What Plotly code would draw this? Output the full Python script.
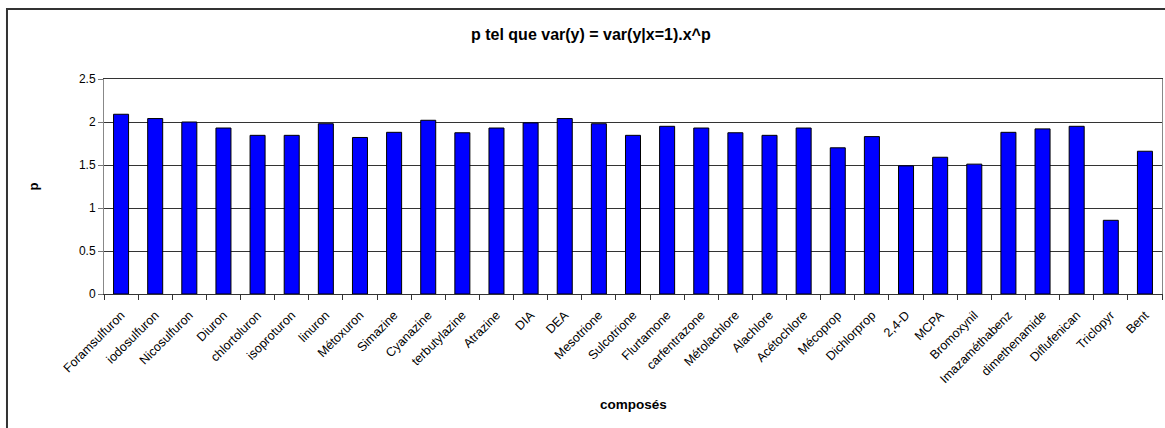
import plotly.graph_objects as go

# compounds and fitted exponent p
COMPOUNDS = [
    "Foramsulfuron", "iodosulfuron", "Nicosulfuron", "Diuron", "chlortoluron",
    "isoproturon", "linuron", "Métoxuron", "Simazine", "Cyanazine",
    "terbutylazine", "Atrazine", "DIA", "DEA", "Mesotrione", "Sulcotrione",
    "Flurtamone", "carfentrazone", "Métolachlore", "Alachlore", "Acétochlore",
    "Mécoprop", "Dichlorprop", "2,4-D", "MCPA", "Bromoxynil",
    "Imazaméthabenz", "dimethenamide", "Diflufenican", "Triclopyr", "Bent",
]
P_VALUES = [
    2.09, 2.04, 2.00, 1.93, 1.845,
    1.845, 1.98, 1.82, 1.88, 2.02,
    1.875, 1.93, 1.99, 2.04, 1.98, 1.845,
    1.95, 1.93, 1.875, 1.845, 1.93,
    1.70, 1.83, 1.49, 1.59, 1.51,
    1.88, 1.92, 1.95, 0.857, 1.66,
]
Y_TICKS = [0, 0.5, 1, 1.5, 2, 2.5]

FONT = "Liberation Sans, Arial, sans-serif"

fig = go.Figure()
fig.add_trace(
    go.Bar(
        x=COMPOUNDS,
        y=P_VALUES,
        marker=dict(color="#0000FF", line=dict(color="black", width=1)),
        showlegend=False,
    )
)

fig.update_layout(
    width=1165,
    height=428,
    margin=dict(l=104, r=3, t=79, b=134),
    plot_bgcolor="white",
    paper_bgcolor="white",
    bargap=0.56,
    font=dict(family=FONT, size=12, color="black"),
)

fig.update_xaxes(
    type="category",
    tickangle=-45,
    ticks="outside",
    tickson="boundaries",
    ticklen=5,
    tickcolor="#333333",
    tickfont=dict(size=12.5),
    ticklabelstandoff=8,
    showline=True,
    linecolor="#333333",
    linewidth=1,
    mirror=True,
    showgrid=False,
)
fig.update_yaxes(
    range=[0, 2.5],
    tickvals=Y_TICKS,
    ticktext=[f"{v:g}" for v in Y_TICKS],
    ticks="outside",
    ticklen=5,
    tickcolor="#777777",
    tickfont=dict(size=12),
    showgrid=True,
    gridcolor="#333333",
    gridwidth=1,
    showline=True,
    linecolor="#888888",
    linewidth=1,
    mirror=True,
    zeroline=False,
)

# chart area border
fig.add_shape(type="rect", xref="paper", yref="paper",
              x0=-0.0917, x1=1.006, y0=-0.64, y1=1.3256,
              line=dict(color="#333333", width=2))

fig.add_annotation(text="<b>p tel que var(y) = var(y|x=1).x^p</b>",
                   xref="paper", yref="paper", x=0.4603, y=1.205,
                   xanchor="center", yanchor="middle", showarrow=False,
                   font=dict(size=16))
fig.add_annotation(text="<b>composés</b>",
                   xref="paper", yref="paper", x=0.5, y=-0.516,
                   xanchor="center", yanchor="middle", showarrow=False,
                   font=dict(size=13.5))
fig.add_annotation(text="<b>p</b>", textangle=-90,
                   xref="paper", yref="paper", x=-0.067, y=0.5,
                   xanchor="center", yanchor="middle", showarrow=False,
                   font=dict(size=13))

fig.write_html("out.html", config={"displayModeBar": False},
               post_script="document.body.style.margin='0';")
